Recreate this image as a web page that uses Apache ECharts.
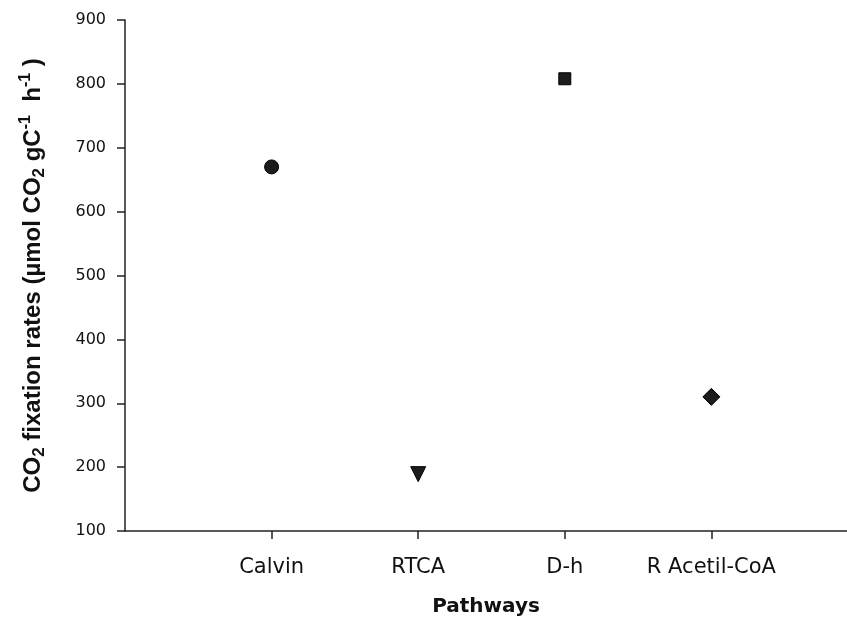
<!DOCTYPE html>
<html>
<head>
<meta charset="utf-8">
<script src="https://cdn.jsdelivr.net/npm/echarts@6/dist/echarts.min.js"></script>
<style>
  html, body { margin: 0; padding: 0; background: #fff; }
  #chart { width: 847px; height: 622px; }
</style>
</head>
<body>
<div id="chart"></div>
<script>
// pathways on the x axis (slot 0 left empty like the original)
var pathways = ['Calvin', 'RTCA', 'D-h', 'R Acetil-CoA'];
var rates = [670, 189, 808, 310];
var markers = ['circle', 'triangle', 'rect', 'diamond'];
var markerSizes = [14, 15, 12, 17];
var markerRotate = [0, 180, 0, 0];
var yTicks = [100, 200, 300, 400, 500, 600, 700, 800, 900];

var arial = 'Arial, "Liberation Sans", sans-serif';
var wide = '"DejaVu Sans", sans-serif';

var chart = echarts.init(document.getElementById('chart'));

var points = pathways.map(function (p, i) {
  return {
    value: [i + 1, rates[i]],
    symbol: markers[i],
    symbolSize: markerSizes[i],
    symbolRotate: markerRotate[i]
  };
});

chart.setOption({
  animation: false,
  grid: { left: 125, right: 0, top: 20, bottom: 91, outerBoundsMode: 'none', containLabel: false },
  xAxis: {
    type: 'value',
    min: 0,
    max: 4.925, // axis runs off the right edge of the figure
    interval: 1,
    name: 'Pathways',
    nameLocation: 'middle',
    nameGap: 66,
    nameTextStyle: { fontFamily: wide, fontWeight: 'bold', fontSize: 20, color: '#111' },
    splitLine: { show: false },
    axisLine: { lineStyle: { color: '#222', width: 1.5 } },
    axisTick: { customValues: [1, 2, 3, 4], length: 8, lineStyle: { color: '#222', width: 1.5 } },
    axisLabel: {
      customValues: [1, 2, 3, 4],
      margin: 26,
      fontFamily: wide,
      fontSize: 21,
      color: '#111',
      formatter: function (v) { return pathways[v - 1] || ''; }
    }
  },
  yAxis: {
    type: 'value',
    min: yTicks[0],
    max: yTicks[yTicks.length - 1],
    interval: 100,
    nameLocation: 'middle',
    nameRotate: 90,
    nameGap: 77,
    name: '{b|CO}{s|2}{b| fixation rates (\u00b5mol CO}{s|2}{b| gC}{p|-1}{b|  h}{p|-1}{b| )}',
    nameTextStyle: {
      rich: {
        b: { fontFamily: arial, fontWeight: 'bold', fontSize: 24, color: '#111', lineHeight: 30 },
        s: { fontFamily: arial, fontWeight: 'bold', fontSize: 17, color: '#111', lineHeight: 17, verticalAlign: 'bottom' },
        p: { fontFamily: arial, fontWeight: 'bold', fontSize: 16, color: '#111', lineHeight: 16, verticalAlign: 'top' }
      }
    },
    splitLine: { show: false },
    axisLine: { show: true, lineStyle: { color: '#222', width: 1.5 } },
    axisTick: { show: true, length: 8, lineStyle: { color: '#222', width: 1.5 } },
    axisLabel: { margin: 19, fontFamily: wide, fontSize: 16, color: '#111' }
  },
  series: [{
    type: 'scatter',
    data: points,
    itemStyle: { color: '#1c1c1c', borderColor: '#000', borderWidth: 1, opacity: 1 }
  }]
});
</script>
</body>
</html>
